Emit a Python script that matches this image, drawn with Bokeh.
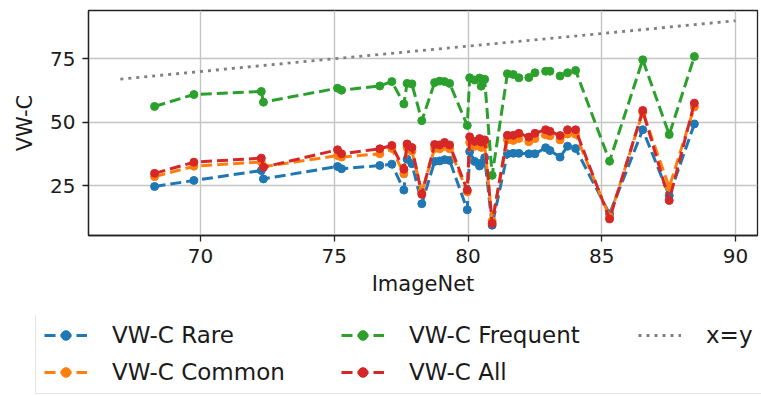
from bokeh.plotting import figure
from bokeh.models import Legend, LegendItem, FixedTicker, Range1d
from bokeh.embed import file_html
from bokeh.resources import INLINE

# ImageNet accuracy (x) for each model
imagenet = [68.28, 69.75, 72.27, 72.35, 75.12, 75.27, 76.70, 77.15, 77.60, 77.72,
            77.90, 78.27, 78.75, 78.94, 79.12, 79.31, 79.97, 80.06, 80.25, 80.43,
            80.49, 80.62, 80.90, 81.47, 81.69, 81.90, 82.27, 82.50, 82.90, 83.06,
            83.44, 83.72, 84.02, 85.29, 86.53, 87.52, 88.46]

vwc_rare = [24.6, 27.0, 30.9, 27.6, 32.5, 31.6, 32.9, 33.4, 23.2, 35.4,
            33.6, 17.8, 34.5, 34.7, 35.2, 34.9, 15.4, 38.4, 34.5, 32.7,
            33.8, 36.0, 9.3, 37.5, 37.7, 37.7, 37.5, 37.5, 39.9, 38.8,
            36.2, 40.5, 39.6, 13.8, 47.0, 21.0, 49.3]

vwc_common = [28.5, 32.6, 34.3, 32.4, 36.8, 36.2, 37.5, 39.6, 29.6, 40.0,
              38.6, 22.3, 39.6, 39.5, 40.5, 39.5, 22.5, 42.0, 40.5, 41.5,
              40.0, 41.0, 11.0, 43.0, 42.8, 43.5, 42.3, 43.5, 45.0, 44.6,
              43.0, 45.3, 45.2, 12.5, 53.9, 24.3, 56.0]

vwc_frequent = [56.2, 60.9, 62.1, 57.9, 63.4, 62.6, 64.3, 66.0, 57.2, 65.3,
                65.1, 50.6, 65.6, 66.2, 66.0, 65.3, 48.7, 67.5, 66.6, 67.4,
                64.2, 66.9, 29.0, 69.1, 68.8, 67.5, 67.6, 69.5, 70.1, 70.1,
                68.2, 69.5, 70.4, 34.6, 74.6, 45.1, 75.9]

vwc_all = [29.8, 34.2, 35.8, 32.2, 39.1, 37.5, 39.5, 40.8, 31.4, 41.4,
           40.0, 21.5, 41.2, 41.0, 42.0, 41.0, 23.2, 44.2, 42.4, 43.5,
           42.1, 43.0, 10.0, 44.8, 44.8, 45.6, 44.1, 45.6, 47.0, 46.4,
           44.7, 47.0, 47.0, 11.8, 54.6, 19.1, 57.5]

diag_x = [67, 90]
diag_y = [67, 90]

x_ticks = [70, 75, 80, 85, 90]
y_ticks = [25, 50, 75]

series = [
    ("VW-C Rare", vwc_rare, "#1f77b4"),
    ("VW-C Common", vwc_common, "#ff7f0e"),
    ("VW-C Frequent", vwc_frequent, "#2ca02c"),
    ("VW-C All", vwc_all, "#d62728"),
]
diag_label = "x=y"

FONT = "DejaVu Sans"
LINE_W = 3
DASH = "11 5"
MSIZE = 8
DIAG_COLOR = "#808080"
DIAG_DASH = "3 5"

p = figure(width=761, height=315, output_backend="svg", toolbar_location=None,
           x_range=Range1d(65.81, 90.82), y_range=Range1d(5.27, 94.06),
           min_border_left=88, min_border_right=4, min_border_top=10,
           min_border_bottom=80)

p.background_fill_color = "white"
p.border_fill_color = "white"
p.outline_line_color = "#222222"
p.outline_line_width = 1.3

p.grid.grid_line_color = "#c4c4c4"
p.grid.grid_line_width = 1.4

p.xaxis.ticker = FixedTicker(ticks=x_ticks)
p.yaxis.ticker = FixedTicker(ticks=y_ticks)
for ax in (p.xaxis, p.yaxis):
    ax.minor_tick_line_color = None
    ax.major_tick_in = 0
    ax.major_tick_out = 6
    ax.major_tick_line_width = 1.3
    ax.major_tick_line_color = "#222222"
    ax.axis_line_color = "#222222"
    ax.axis_line_width = 1.3
    ax.major_label_text_font = FONT
    ax.major_label_text_font_size = "20px"
    ax.major_label_text_color = "#1a1a1a"
    ax.axis_label_text_font = FONT
    ax.axis_label_text_font_size = "21px"
    ax.axis_label_text_font_style = "normal"
    ax.axis_label_text_color = "#1a1a1a"
    ax.major_label_standoff = 7

p.xaxis.axis_label = "ImageNet"
p.yaxis.axis_label = "VW-C"
p.xaxis.axis_label_standoff = 6
p.yaxis.axis_label_standoff = 10

for label, vals, color in series:
    p.line(imagenet, vals, line_color=color, line_width=LINE_W, line_dash=DASH)
    p.scatter(imagenet, vals, size=MSIZE, fill_color=color, line_color=color)
p.line(diag_x, diag_y, line_color=DIAG_COLOR, line_width=2.8, line_dash=DIAG_DASH)

# Legend lives in a separate strip figure below the chart; its range is chosen so
# the proxy renderers (same data) fall outside the view and only feed the legend.
lg = figure(width=761, height=81, output_backend="svg", toolbar_location=None,
            x_range=Range1d(0, 1), y_range=Range1d(0, 1),
            x_axis_location=None, y_axis_location=None,
            min_border_left=0, min_border_right=0, min_border_top=0,
            min_border_bottom=0)
lg.outline_line_color = None
lg.grid.visible = False
lg.background_fill_color = "white"
lg.border_fill_color = "white"

items = []
for label, vals, color in series:
    lr = lg.line(imagenet, vals, line_color=color, line_width=LINE_W, line_dash=DASH)
    sr = lg.scatter(imagenet, vals, size=MSIZE, fill_color=color, line_color=color)
    items.append(LegendItem(label=label, renderers=[lr, sr]))
dr = lg.line(diag_x, diag_y, line_color=DIAG_COLOR, line_width=2.8, line_dash=DIAG_DASH)
items.append(LegendItem(label=diag_label, renderers=[dr]))

legend = Legend(items=items, location=(35, 2), orientation="vertical", nrows=2,
                label_text_font=FONT, label_text_font_size="23px",
                label_text_color="#1a1a1a",
                glyph_width=43, glyph_height=24, label_height=24,
                label_standoff=25, label_width=218, spacing=11, padding=8,
                margin=0, border_line_color="#cccccc", border_line_width=1.3,
                background_fill_color="white", background_fill_alpha=1.0)
lg.add_layout(legend)

open("out.html", "w").write(file_html([p, lg], INLINE))
